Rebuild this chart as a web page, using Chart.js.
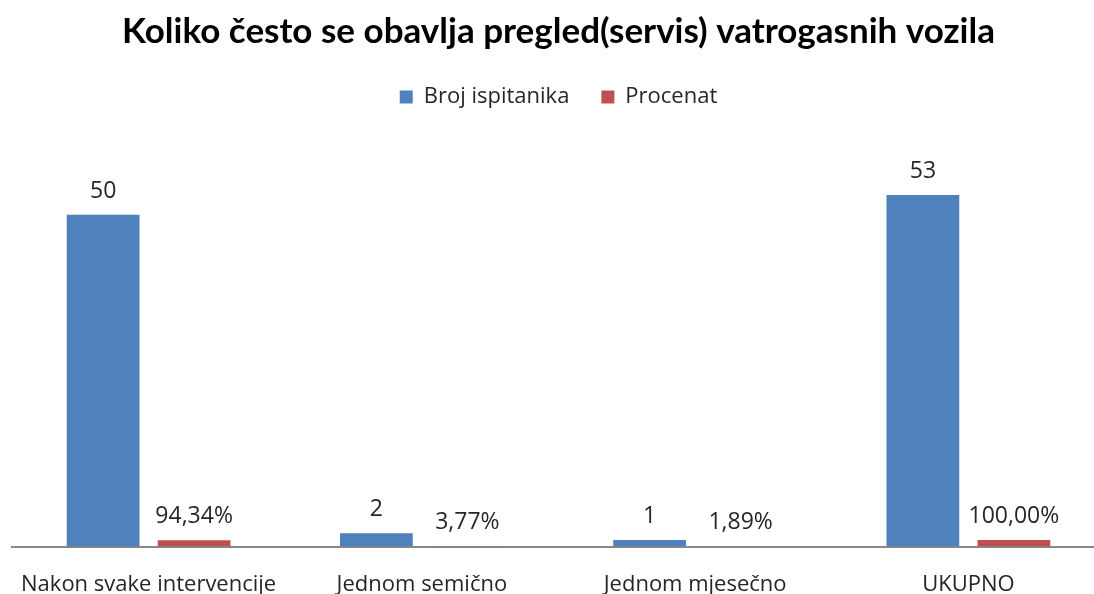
<!DOCTYPE html>
<html>
<head>
<meta charset="utf-8">
<script src="https://cdn.jsdelivr.net/npm/chart.js@4"></script>
<style>
  html, body { margin: 0; padding: 0; background: #fff; overflow: hidden; }
  #wrap { width: 1094px; height: 594px; overflow: hidden; }
</style>
</head>
<body>
<div id="wrap"><canvas id="chart" width="1105" height="594"></canvas></div>
<script>
// chart data
const categories = ['Nakon svake intervencije', 'Jednom semično', 'Jednom mjesečno', 'UKUPNO'];
const brojIspitanika = [50, 2, 1, 53];
const procenat = [0.9434, 0.0377, 0.0189, 1.0];
const procenatLabels = ['94,34%', '3,77%', '1,89%', '100,00%'];

// draws the value above each bar
const valueLabels = {
    id: 'valueLabels',
    afterDatasetsDraw(chart) {
        const ctx = chart.ctx;
        ctx.save();
        ctx.font = '23px "Open Sans", sans-serif';
        ctx.fillStyle = '#262626';
        ctx.textAlign = 'center';
        ctx.textBaseline = 'alphabetic';
        chart.data.datasets.forEach((ds, i) => {
            const meta = chart.getDatasetMeta(i);
            meta.data.forEach((bar, j) => {
                const txt = i === 0 ? String(ds.data[j]) : procenatLabels[j];
                ctx.fillText(txt, bar.x, bar.y - 17);
            });
        });
        ctx.restore();
    }
};

const ctx = document.getElementById('chart').getContext('2d');
new Chart(ctx, {
    type: 'bar',
    data: {
        labels: categories,
        datasets: [
            {
                label: 'Broj ispitanika',
                data: brojIspitanika,
                backgroundColor: '#4F81BD',
                barPercentage: 0.8,
                categoryPercentage: 0.666,
            },
            {
                label: 'Procenat',
                data: procenat,
                backgroundColor: '#C0504D',
                barPercentage: 0.8,
                categoryPercentage: 0.666,
            },
        ],
    },
    options: {
        responsive: false,
        animation: false,
        layout: { padding: { left: 12, right: 0, top: 0, bottom: -21 } },
        plugins: {
            title: {
                display: true,
                text: 'Koliko često se obavlja pregled(servis) vatrogasnih vozila',
                color: '#000',
                font: { family: 'Lato', size: 35, weight: 'bold' },
                padding: { top: 11, bottom: 1 },
            },
            legend: {
                display: true,
                labels: {
                    color: '#262626',
                    font: { family: 'Open Sans', size: 22 },
                    boxWidth: 13,
                    boxHeight: 13,
                    padding: 32,
                },
            },
            tooltip: { enabled: false },
        },
        scales: {
            x: {
                grid: { display: false },
                border: { display: true, color: '#888', width: 2 },
                ticks: {
                    color: '#262626',
                    font: { family: 'Open Sans', size: 22 },
                    padding: 17,
                    maxRotation: 0,
                },
            },
            y: {
                display: false,
                min: 0,
                max: 64.6,
            },
        },
    },
    plugins: [valueLabels],
});
</script>
</body>
</html>
